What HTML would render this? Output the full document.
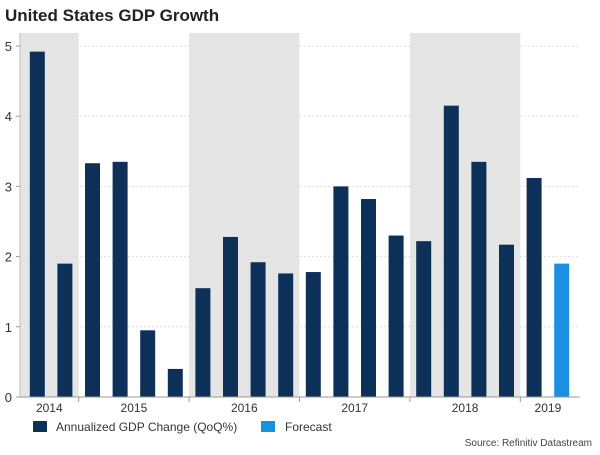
<!DOCTYPE html>
<html><head><meta charset="utf-8"><style>
body{margin:0;width:600px;height:450px;background:#fff;font-family:"Liberation Sans",Arial,sans-serif;overflow:hidden}
</style></head><body>
<svg width="600" height="450">
<text x="5" y="21" font-size="17" font-weight="bold" fill="#222">United States GDP Growth</text>
<g id="bands"></g><g id="grid"></g><g id="bars"></g><g id="yticks"></g><g id="xlabels"></g>
<line x1="20" y1="397" x2="580" y2="397" stroke="#999" stroke-width="1"/>
<line x1="20" y1="33" x2="20" y2="397" stroke="#bbb" stroke-width="1"/>
<rect x="33" y="421" width="14" height="11" fill="#0d3058"/>
<text x="56" y="431" font-size="12" fill="#333">Annualized GDP Change (QoQ%)</text>
<rect x="261" y="421" width="14" height="11" fill="#1b8fe0"/>
<text x="285" y="431" font-size="12" fill="#333">Forecast</text>
<text x="592" y="446" font-size="10" fill="#444" text-anchor="end">Source: Refinitiv Datastream</text>
</svg>
<script>
const values=[4.92,1.9,3.33,3.35,0.95,0.4,1.55,2.28,1.92,1.76,1.78,3.0,2.82,2.3,2.22,4.15,3.35,2.17,3.12,1.9];
const isForecast=[0,0,0,0,0,0,0,0,0,0,0,0,0,0,0,0,0,0,0,1];
const years=["2014","2015","2016","2017","2018","2019"];
const yearQuarters=[2,4,4,4,4,2];
const yTicks=[0,1,2,3,4,5];
const NS="http://www.w3.org/2000/svg";
const x0=23.5,q=27.6,y0=397,ppu=70.2,bw=15;
const xq=i=>x0+q*i; // left edge of quarter slot i
const y=v=>y0-v*ppu;
function mk(t,a,p){const e=document.createElementNS(NS,t);for(const k in a)e.setAttribute(k,a[k]);document.getElementById(p).appendChild(e);return e;}
let start=0;
years.forEach((yr,j)=>{
 const s=start===0?-0.13:start, e=start+yearQuarters[j];
 if(j%2===0){const r=mk('rect',{x:xq(s),y:33,width:xq(e)-xq(s),height:y0-33,fill:'#e5e5e5'},'bands');
 
 }
 const t=mk('text',{x:(xq(s)+Math.min(xq(e),578))/2,y:412,'font-size':12,fill:'#333','text-anchor':'middle'},'xlabels');
 t.textContent=yr;
 
 
 if(j>0){const l=mk('line',{x1:xq(start),x2:xq(start),y1:397,y2:402,stroke:'#999'},'xlabels');
 
 }
 start=e;
});
yTicks.forEach(v=>{
 if(v>0){const g=mk('line',{x1:20,x2:580,y1:y(v),y2:y(v),stroke:'#ddd','stroke-dasharray':'2,2'},'grid');
 
 }
 const t=mk('text',{x:12,y:y(v)+5,'font-size':13,fill:'#333','text-anchor':'end'},'yticks');
 t.textContent=v;
 
 
 const tk=mk('line',{x1:16,x2:20,y1:y(v),y2:y(v),stroke:'#999'},'yticks');
 
 
});
values.forEach((v,i)=>{
 const b=mk('rect',{x:xq(i)+q/2-bw/2,y:y(v),width:bw,height:v*ppu,fill:isForecast[i]?'#1b8fe0':'#0d3058'},'bars');
 
 
});
</script>
</body></html>
